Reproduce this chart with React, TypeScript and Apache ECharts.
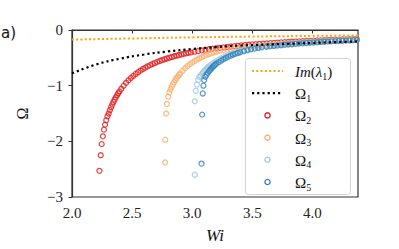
import React, { useEffect, useRef } from "react";
import * as echarts from "echarts";

// ---- data ----
const xTicks = [2.0, 2.5, 3.0, 3.5, 4.0];
const yTicks = [-3, -2, -1, 0];

const imLambda1: [number, number][] = [
  [2.0, -0.172], [2.5, -0.152], [3.0, -0.133], [3.5, -0.118], [4.0, -0.105], [4.4, -0.096],
];

const omega1: [number, number][] = [
  [2.0, -0.78], [2.2, -0.62], [2.4, -0.515], [2.6, -0.44], [2.8, -0.385], [3.0, -0.342],
  [3.2, -0.307], [3.4, -0.28], [3.6, -0.262], [3.8, -0.247], [4.0, -0.232], [4.2, -0.217], [4.4, -0.203],
];

const omega2: [number, number][] = [
  [2.228, -2.53], [2.239, -2.25], [2.247, -2.05], [2.257, -1.91], [2.266, -1.79], [2.275, -1.7],
  [2.285, -1.62], [2.295, -1.55], [2.305, -1.5], [2.315, -1.441], [2.325, -1.387], [2.335, -1.338],
  [2.345, -1.292], [2.355, -1.249], [2.365, -1.209], [2.375, -1.171], [2.385, -1.136], [2.395, -1.103],
  [2.41, -1.056], [2.43, -1.0], [2.45, -0.949], [2.47, -0.904], [2.49, -0.862], [2.51, -0.825],
  [2.53, -0.79], [2.55, -0.758], [2.57, -0.729], [2.59, -0.701], [2.61, -0.676], [2.63, -0.653],
  [2.65, -0.631], [2.67, -0.61], [2.69, -0.591], [2.71, -0.573], [2.73, -0.556], [2.75, -0.54],
  [2.77, -0.525], [2.79, -0.511], [2.81, -0.497], [2.83, -0.485], [2.85, -0.472], [2.87, -0.461],
  [2.89, -0.45], [2.91, -0.439], [2.93, -0.429], [2.95, -0.42], [2.97, -0.41], [2.99, -0.402],
  [3.02, -0.389], [3.05, -0.378], [3.08, -0.366], [3.11, -0.356], [3.14, -0.346], [3.17, -0.337],
  [3.2, -0.328], [3.23, -0.32], [3.26, -0.312], [3.29, -0.304], [3.32, -0.297], [3.35, -0.29],
  [3.38, -0.284], [3.41, -0.277], [3.44, -0.271], [3.47, -0.266], [3.5, -0.26], [3.53, -0.255],
  [3.56, -0.25], [3.59, -0.245], [3.62, -0.24], [3.65, -0.236], [3.68, -0.231], [3.71, -0.227],
  [3.74, -0.223], [3.77, -0.219], [3.8, -0.215], [3.83, -0.212], [3.86, -0.208], [3.89, -0.205],
  [3.92, -0.202], [3.95, -0.198], [3.98, -0.195], [4.01, -0.192], [4.04, -0.189], [4.07, -0.187],
  [4.1, -0.184], [4.13, -0.181], [4.16, -0.179], [4.19, -0.176], [4.22, -0.174], [4.25, -0.171],
  [4.28, -0.169], [4.31, -0.167], [4.34, -0.165], [4.37, -0.162],
];

const omega3: [number, number][] = [
  [2.775, -2.38], [2.776, -1.97], [2.783, -1.5], [2.79, -1.33], [2.8, -1.2], [2.81, -1.12],
  [2.82, -1.064], [2.83, -1.017], [2.84, -0.975], [2.85, -0.936], [2.86, -0.9], [2.87, -0.867],
  [2.88, -0.836], [2.89, -0.807], [2.9, -0.78], [2.92, -0.731], [2.94, -0.688], [2.96, -0.65],
  [2.98, -0.616], [3.0, -0.585], [3.02, -0.557], [3.04, -0.532], [3.06, -0.509], [3.08, -0.488],
  [3.1, -0.468], [3.12, -0.45], [3.14, -0.433], [3.16, -0.418], [3.18, -0.403], [3.2, -0.39],
  [3.23, -0.372], [3.26, -0.361], [3.29, -0.351], [3.32, -0.342], [3.35, -0.333], [3.38, -0.324],
  [3.41, -0.316], [3.44, -0.308], [3.47, -0.301], [3.5, -0.294], [3.53, -0.287], [3.56, -0.28],
  [3.59, -0.274], [3.62, -0.268], [3.65, -0.262], [3.68, -0.257], [3.71, -0.251], [3.74, -0.246],
  [3.77, -0.241], [3.8, -0.236], [3.83, -0.232], [3.86, -0.227], [3.89, -0.223], [3.92, -0.219],
  [3.95, -0.215], [3.98, -0.211], [4.01, -0.207], [4.04, -0.204], [4.07, -0.2], [4.1, -0.197],
  [4.13, -0.193], [4.16, -0.19], [4.19, -0.187], [4.22, -0.184], [4.25, -0.181], [4.28, -0.179],
  [4.31, -0.176], [4.34, -0.173], [4.37, -0.171],
];

const omega4: [number, number][] = [
  [3.022, -2.6], [3.022, -1.28], [3.03, -1.09], [3.04, -0.98], [3.05, -0.9], [3.06, -0.845],
  [3.07, -0.816], [3.08, -0.788], [3.09, -0.762], [3.1, -0.738], [3.11, -0.715], [3.12, -0.694],
  [3.13, -0.674], [3.14, -0.655], [3.15, -0.637], [3.16, -0.62], [3.18, -0.589], [3.2, -0.56],
  [3.22, -0.534], [3.24, -0.511], [3.26, -0.489], [3.28, -0.47], [3.3, -0.451], [3.32, -0.435],
  [3.34, -0.419], [3.36, -0.404], [3.38, -0.391], [3.4, -0.378], [3.43, -0.36], [3.46, -0.344],
  [3.49, -0.33], [3.52, -0.316], [3.55, -0.304], [3.58, -0.292], [3.62, -0.284], [3.65, -0.277],
  [3.68, -0.272], [3.71, -0.265], [3.74, -0.259], [3.77, -0.254], [3.8, -0.248], [3.83, -0.244],
  [3.86, -0.238], [3.89, -0.234], [3.92, -0.229], [3.95, -0.225], [3.98, -0.22], [4.01, -0.216],
  [4.04, -0.212], [4.07, -0.208], [4.1, -0.205], [4.13, -0.2], [4.16, -0.197], [4.19, -0.194],
  [4.22, -0.19], [4.25, -0.187], [4.28, -0.185], [4.31, -0.182], [4.34, -0.178], [4.37, -0.176],
];

const omega5: [number, number][] = [
  [3.078, -2.4], [3.083, -1.52], [3.088, -1.14], [3.094, -1.0], [3.1, -0.9], [3.11, -0.84],
  [3.12, -0.8], [3.13, -0.77], [3.14, -0.74], [3.15, -0.715], [3.16, -0.69], [3.17, -0.665],
  [3.18, -0.645], [3.19, -0.625], [3.2, -0.607], [3.22, -0.579], [3.24, -0.551], [3.26, -0.526],
  [3.28, -0.503], [3.3, -0.482], [3.32, -0.463], [3.34, -0.445], [3.36, -0.429], [3.38, -0.414],
  [3.4, -0.399], [3.43, -0.38], [3.46, -0.362], [3.49, -0.346], [3.52, -0.333], [3.55, -0.322],
  [3.58, -0.311], [3.62, -0.3], [3.65, -0.293], [3.68, -0.286], [3.71, -0.279], [3.74, -0.273],
  [3.77, -0.266], [3.8, -0.26], [3.83, -0.255], [3.86, -0.249], [3.89, -0.244], [3.92, -0.239],
  [3.95, -0.234], [3.98, -0.229], [4.01, -0.2245], [4.04, -0.221], [4.07, -0.216], [4.1, -0.212],
  [4.13, -0.208], [4.16, -0.204], [4.19, -0.2], [4.22, -0.197], [4.25, -0.193], [4.28, -0.191],
  [4.31, -0.187], [4.34, -0.184], [4.37, -0.181],
];

const COLORS = {
  im: "#ffa500",
  o1: "#000000",
  o2: "#e31a1c",
  o3: "#fdae6b",
  o4: "#9ecae1",
  o5: "#3182bd",
};

const SERIF = "Liberation Serif";

export default function App() {
  const ref = useRef<HTMLDivElement>(null);

  useEffect(() => {
    if (!ref.current) return;
    const chart = echarts.init(ref.current, undefined, { renderer: "svg" });

    const scatter = (name: string, data: [number, number][], color: string) => ({
      name,
      type: "scatter",
      data,
      symbol: "circle",
      symbolSize: 5,
      itemStyle: { color: "rgba(0,0,0,0)", borderColor: color, borderWidth: 1.3 },
      silent: true,
    });

    const legendTop = 71;
    const legendStep = 22.2;
    const lx0 = 252;
    const lx1 = 283;
    const tx = 295;
    const legendItems: any[] = [
      {
        type: "rect",
        shape: { x: 245.5, y: 58.5, width: 105, height: 136, r: 3 },
        style: { fill: "rgba(255,255,255,0.85)", stroke: "#d4d4d4", lineWidth: 1 },
        z: 10,
      },
    ];
    const labels = [
      "{i|Im}{n|(}{i|λ}{s|1}{n|)}",
      "{n|Ω}{s|1}",
      "{n|Ω}{s|2}",
      "{n|Ω}{s|3}",
      "{n|Ω}{s|4}",
      "{n|Ω}{s|5}",
    ];
    const iconColors = [COLORS.im, COLORS.o1, COLORS.o2, COLORS.o3, COLORS.o4, COLORS.o5];
    labels.forEach((lab, i) => {
      const y = legendTop + legendStep * i;
      if (i < 2) {
        legendItems.push({
          type: "line",
          shape: { x1: lx0, y1: y, x2: lx1, y2: y },
          style: {
            stroke: iconColors[i],
            lineWidth: i === 0 ? 2 : 2.2,
            lineDash: i === 0 ? [2, 2.3] : [2.2, 3],
          },
          z: 11,
        });
      } else {
        legendItems.push({
          type: "circle",
          shape: { cx: (lx0 + lx1) / 2, cy: y, r: 2.6 },
          style: { fill: "none", stroke: iconColors[i], lineWidth: 1.3 },
          z: 11,
        });
      }
      legendItems.push({
        type: "text",
        x: tx,
        y: y + 1,
        style: {
          text: lab,
          verticalAlign: "middle",
          rich: {
            i: { fontFamily: SERIF, fontStyle: "italic", fontSize: 15, fill: "#111", lineHeight: 18, verticalAlign: "middle" },
            n: { fontFamily: SERIF, fontSize: 15, fill: "#111", lineHeight: 18, verticalAlign: "middle" },
            s: { fontFamily: SERIF, fontSize: 10, fill: "#111", lineHeight: 18, verticalAlign: "bottom" },
          },
        },
        z: 11,
      });
    });

    chart.setOption({
      animation: false,
      grid: { left: 72, right: 41, top: 30, bottom: 45, show: true, borderColor: "#333", borderWidth: 1.2, backgroundColor: "transparent" },
      xAxis: {
        type: "value",
        min: 2.0,
        max: 4.38,
        name: "Wi",
        nameLocation: "middle",
        nameGap: 30,
        nameTextStyle: { fontFamily: SERIF, fontStyle: "italic", fontSize: 17, color: "#111" },
        axisLine: { lineStyle: { color: "#333", width: 1.2 } },
        axisTick: { show: true, length: 3.5, lineStyle: { color: "#333", width: 1 }, customValues: xTicks },
        axisLabel: {
          fontFamily: SERIF,
          fontSize: 15,
          color: "#222",
          margin: 8,
          customValues: xTicks,
          formatter: (v: number) => v.toFixed(1),
        },
        splitLine: { show: false },
      },
      yAxis: {
        type: "value",
        min: -3,
        max: 0,
        interval: 1,
        name: "Ω",
        nameLocation: "middle",
        nameGap: 42,
        nameRotate: 90,
        nameTextStyle: { fontFamily: SERIF, fontSize: 16, color: "#111" },
        axisLine: { show: true, lineStyle: { color: "#333", width: 1.2 } },
        axisTick: { show: true, length: 3.5, lineStyle: { color: "#333", width: 1 }, customValues: yTicks },
        axisLabel: {
          fontFamily: SERIF,
          fontSize: 15,
          color: "#222",
          margin: 9,
          customValues: yTicks,
          formatter: (v: number) => (v < 0 ? "\u2212" + Math.abs(v) : String(v)),
        },
        splitLine: { show: false },
      },
      series: [
        {
          name: "Im(λ1)",
          type: "line",
          data: imLambda1,
          smooth: true,
          symbol: "none",
          lineStyle: { color: COLORS.im, width: 2, type: [2, 2.3] },
          silent: true,
        },
        {
          name: "Ω1",
          type: "line",
          data: omega1,
          smooth: true,
          symbol: "none",
          lineStyle: { color: COLORS.o1, width: 2.2, type: [2.2, 3] },
          silent: true,
        },
        scatter("Ω2", omega2, COLORS.o2),
        scatter("Ω3", omega3, COLORS.o3),
        scatter("Ω4", omega4, COLORS.o4),
        scatter("Ω5", omega5, COLORS.o5),
      ],
      graphic: [
        {
          type: "text",
          x: 1,
          y: 33,
          style: { text: "a)", fontFamily: "DejaVu Sans", fontSize: 15, fill: "#111", verticalAlign: "middle" },
        },
        ...legendItems,
      ],
    });

    return () => chart.dispose();
  }, []);

  return (
    <div
      ref={ref}
      style={{ position: "fixed", left: 0, top: 0, width: 399, height: 249, background: "#fff" }}
    />
  );
}
